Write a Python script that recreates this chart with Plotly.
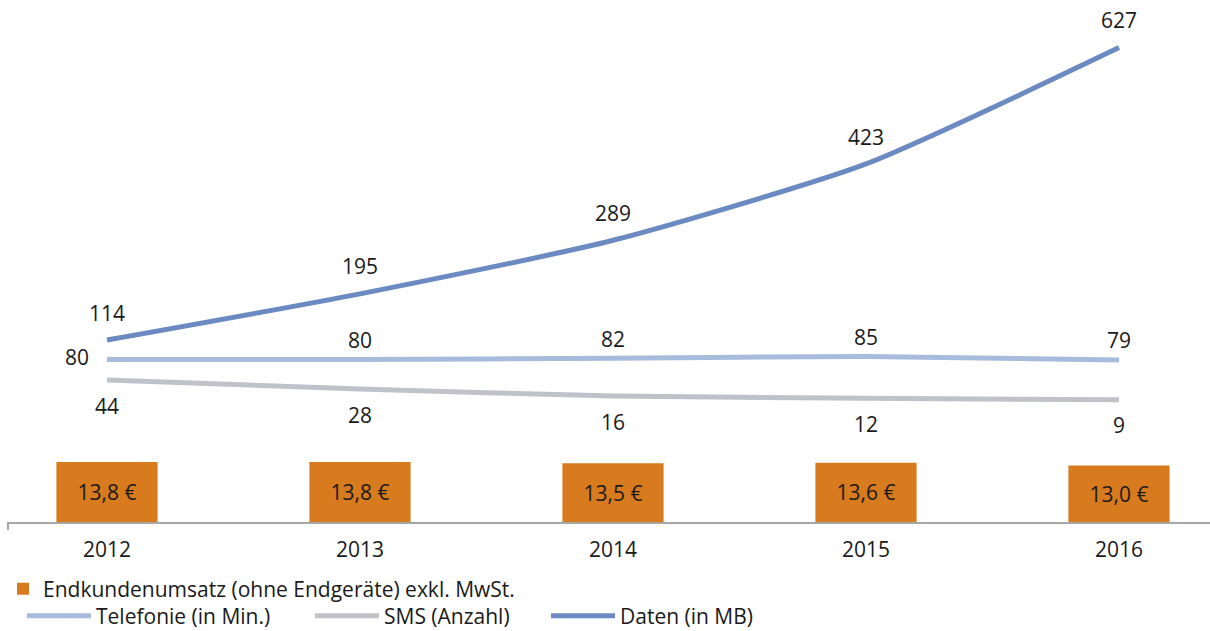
import plotly.graph_objects as go

years = ["2012", "2013", "2014", "2015", "2016"]
umsatz = [13.8, 13.8, 13.5, 13.6, 13.0]
umsatz_labels = ["13,8 €", "13,8 €", "13,5 €", "13,6 €", "13,0 €"]
telefonie = [80, 80, 82, 85, 79]
sms = [44, 28, 16, 12, 9]
daten = [114, 195, 289, 423, 627]

FONT = "Open Sans"
FS = 21
TXT = "#1a1a1a"
C_BAR = "#d77b1e"
C_TEL = "#a7bbdc"
C_SMS = "#bdc3c9"
C_DAT = "#6a8ac1"

W, H = 1210, 631
ML, MR, MT, MB = 8, 0, 10, 109
PW = W - ML - MR
PH = H - MT - MB


def px_x(p):
    return (p - ML) / PW


def px_y(p):
    return (H - MB - p) / PH


fig = go.Figure()

fig.add_trace(go.Bar(
    x=years, y=umsatz, text=umsatz_labels, name="Endkundenumsatz (ohne Endgeräte) exkl. MwSt.",
    marker=dict(color=C_BAR, line=dict(width=0)), width=0.4,
    textposition="inside", insidetextanchor="middle", textangle=0,
    textfont=dict(family=FONT, size=FS, color=TXT), constraintext="none",
    yaxis="y", legend="legend", hoverinfo="skip",
))

series = [
    ("Telefonie (in Min.)", telefonie, C_TEL, "legend2"),
    ("SMS (Anzahl)", sms, C_SMS, "legend3"),
    ("Daten (in MB)", daten, C_DAT, "legend4"),
]
for name, vals, col, lg in series:
    fig.add_trace(go.Scatter(
        x=years, y=vals, name=name, mode="lines", yaxis="y2", legend=lg,
        line=dict(color=col, width=5, shape="spline", smoothing=0.6),
        hoverinfo="skip",
    ))

# data labels: text placed around invisible markers (marker size sets the offset)
label_specs = [
    (daten, ["top center"] * 5, [21] * 5),
    (telefonie, ["middle left"] + ["top center"] * 4, [27] + [8.5] * 4),
    (sms, ["bottom center"] * 5, [27] * 5),
]
for vals, pos, sizes in label_specs:
    fig.add_trace(go.Scatter(
        x=years, y=vals, text=[str(v) for v in vals], mode="markers+text",
        textposition=pos, yaxis="y2", showlegend=False, hoverinfo="skip",
        marker=dict(size=sizes, color="rgba(0,0,0,0)", opacity=0),
        textfont=dict(family=FONT, size=FS, color=TXT), cliponaxis=False,
    ))

# bars: 13.8 -> 60 px tall ; lines: zero at y=405 px, 0.57 px per unit
bar_scale = 60 / 13.8
line_scale = 0.57
line_zero_px = 405
y2_min = -((H - MB) - line_zero_px) / line_scale
y2_max = (line_zero_px - MT) / line_scale

cat_w = 253.0
x0 = -(107 - ML) / cat_w
x1 = x0 + PW / cat_w

hidden_axis = dict(showgrid=False, zeroline=False, showline=False, ticks="",
                   showticklabels=False)

legend_common = dict(orientation="h", bgcolor="rgba(0,0,0,0)", borderwidth=0,
                     font=dict(family=FONT, size=FS, color=TXT),
                     xanchor="left", yanchor="middle", itemwidth=64)

fig.update_layout(
    width=W, height=H,
    margin=dict(l=ML, r=MR, t=MT, b=MB, autoexpand=False),
    paper_bgcolor="white", plot_bgcolor="white",
    font=dict(family=FONT, size=FS, color=TXT),
    xaxis=dict(type="category", range=[x0, x1], showgrid=False, zeroline=False,
               showline=True, linecolor="#a6a6a6", linewidth=2, ticks="",
               tickfont=dict(family=FONT, size=FS, color=TXT), ticklabelstandoff=8),
    yaxis=dict(hidden_axis, range=[0, PH / bar_scale]),
    yaxis2=dict(hidden_axis, range=[y2_min, y2_max], overlaying="y"),
    showlegend=True,
    legend=dict(legend_common, x=px_x(3), y=px_y(589), itemwidth=30),
    legend2=dict(legend_common, x=px_x(22), y=px_y(616)),
    legend3=dict(legend_common, x=px_x(310), y=px_y(616)),
    legend4=dict(legend_common, x=px_x(546), y=px_y(616)),
    shapes=[dict(type="line", xref="paper", yref="paper", x0=0, x1=0,
                 y0=0, y1=-8 / PH, line=dict(color="#a6a6a6", width=2))],
)

fig.write_html("out.html", config={"displayModeBar": False},
               post_script="document.body.style.margin='0';")
